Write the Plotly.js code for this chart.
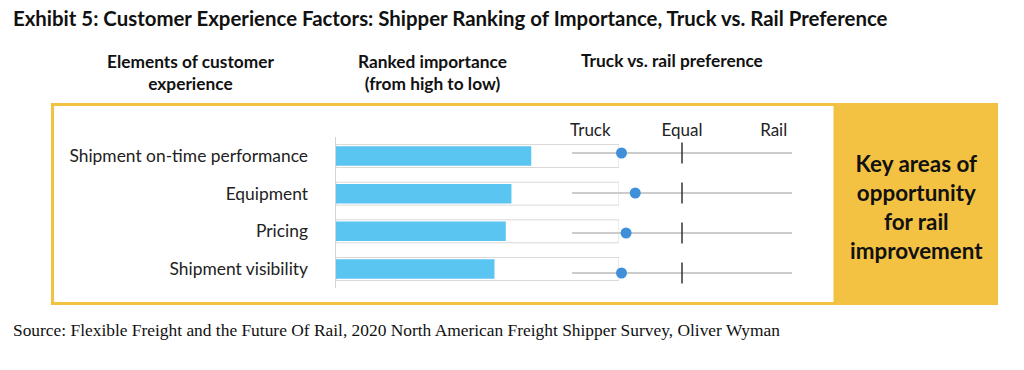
<!DOCTYPE html>
<html>
<head>
<meta charset="utf-8">
<script src="https://cdn.plot.ly/plotly-3.0.1.min.js"></script>
<style>html,body{margin:0;padding:0;background:#fff;}#chart{width:1024px;height:370px;}</style>
</head>
<body>
<div id="chart"></div>
<script>
// ---- data ----
const categories = ["Shipment on-time performance", "Equipment", "Pricing", "Shipment visibility"];
const importance = [69, 62, 60, 56];          // ranked importance (bar length, % of scale)
const importanceScale = [100, 100, 100, 100]; // full-scale outline
const preference = [-0.66, -0.51, -0.61, -0.66]; // -1 = Truck, 0 = Equal, +1 = Rail
const equalMark = [0, 0, 0, 0];
const prefTickVals = [-1, 0, 1];
const prefTickText = ["Truck", "Equal", "Rail"];

const W = 1024, H = 370;
const fx = p => p / W;
const fy = p => 1 - p / H;
const FONT = "Lato, 'Noto Sans', sans-serif";

const traces = [
  {type: "bar", orientation: "h", x: importanceScale, y: categories, xaxis: "x", yaxis: "y",
   width: 0.61, marker: {color: "#ffffff", line: {color: "#d9d9d9", width: 1}}, hoverinfo: "skip"},
  {type: "bar", orientation: "h", x: importance, y: categories, xaxis: "x", yaxis: "y",
   width: 0.52, marker: {color: "#5bc5f1", line: {width: 0}}},
  {type: "scatter", mode: "markers", x: equalMark, y: categories, xaxis: "x2", yaxis: "y2",
   marker: {symbol: "line-ns", size: 15, line: {color: "#333333", width: 1.5}}, hoverinfo: "skip"},
  {type: "scatter", mode: "markers", x: preference, y: categories, xaxis: "x2", yaxis: "y2",
   marker: {color: "#3f8fd9", size: 11}}
];

const layout = {
  width: W, height: H,
  margin: {l: 0, r: 0, t: 0, b: 0},
  paper_bgcolor: "#ffffff", plot_bgcolor: "rgba(0,0,0,0)",
  showlegend: false, barmode: "overlay",
  font: {family: FONT, color: "#222"},
  xaxis: {domain: [fx(336), fx(619)], range: [0, 100], anchor: "y",
          showgrid: false, zeroline: false, showticklabels: false, showline: false, fixedrange: true},
  yaxis: {domain: [fy(287.8), fy(137.2)], range: [3.5, -0.5], type: "category", anchor: "x",
          showgrid: false, zeroline: false, showline: true, linecolor: "#d4d4d4", linewidth: 1.5,
          ticks: "outside", ticklen: 23, tickcolor: "rgba(0,0,0,0)",
          tickfont: {family: FONT, size: 17.4, color: "#222"}},
  xaxis2: {domain: [fx(572), fx(792)], range: [-1.2, 1.2], anchor: "free", position: fy(139), side: "top",
           tickvals: prefTickVals, ticktext: prefTickText, ticks: "", showgrid: false, zeroline: false,
           showline: false, tickfont: {family: FONT, size: 17, color: "#222"}},
  yaxis2: {domain: [fy(293), fy(133)], range: [3.5, -0.5], type: "category", anchor: "x2",
           showgrid: true, gridcolor: "#cccccc", gridwidth: 1.5, zeroline: false,
           showticklabels: false, ticks: "", showline: false},
  shapes: [
    {type: "rect", xref: "paper", yref: "paper", x0: fx(835), x1: fx(998), y0: fy(305), y1: fy(103),
     fillcolor: "#f4c243", line: {width: 0}, layer: "below"},
    {type: "rect", xref: "paper", yref: "paper", x0: fx(52.5), x1: fx(835), y0: fy(303.5), y1: fy(104.5),
     fillcolor: "rgba(0,0,0,0)", line: {color: "#f2c142", width: 3}, layer: "below"}
  ],
  annotations: [
    {text: "<b>Exhibit 5: Customer Experience Factors: Shipper Ranking of Importance, Truck vs. Rail Preference</b>",
     xref: "paper", yref: "paper", x: fx(11), y: fy(18), xanchor: "left", yanchor: "middle", showarrow: false,
     font: {family: FONT, size: 20.4, color: "#111"}},
    {text: "<b>Elements of customer<br>experience</b>", xref: "paper", yref: "paper", x: fx(190), y: fy(72),
     xanchor: "center", yanchor: "middle", showarrow: false, font: {family: FONT, size: 17.3, color: "#111"}},
    {text: "<b>Ranked importance<br>(from high to low)</b>", xref: "paper", yref: "paper", x: fx(432), y: fy(72),
     xanchor: "center", yanchor: "middle", showarrow: false, font: {family: FONT, size: 17.3, color: "#111"}},
    {text: "<b>Truck vs. rail preference</b>", xref: "paper", yref: "paper", x: fx(672), y: fy(61),
     xanchor: "center", yanchor: "middle", showarrow: false, font: {family: FONT, size: 17.3, color: "#111"}},
    {text: "<b>Key areas of<br>opportunity<br>for rail<br>improvement</b>", xref: "paper", yref: "paper",
     x: fx(916), y: fy(207), xanchor: "center", yanchor: "middle", showarrow: false,
     font: {family: FONT, size: 22.4, color: "#111"}},
    {text: "Source: Flexible Freight and the Future Of Rail, 2020 North American Freight Shipper Survey, Oliver Wyman",
     xref: "paper", yref: "paper", x: fx(11), y: fy(330), xanchor: "left", yanchor: "middle", showarrow: false,
     font: {family: "'Liberation Serif', 'DejaVu Serif', serif", size: 17.4, color: "#111"}}
  ]
};

Plotly.newPlot("chart", traces, layout, {displayModeBar: false, staticPlot: true});
</script>
</body>
</html>
